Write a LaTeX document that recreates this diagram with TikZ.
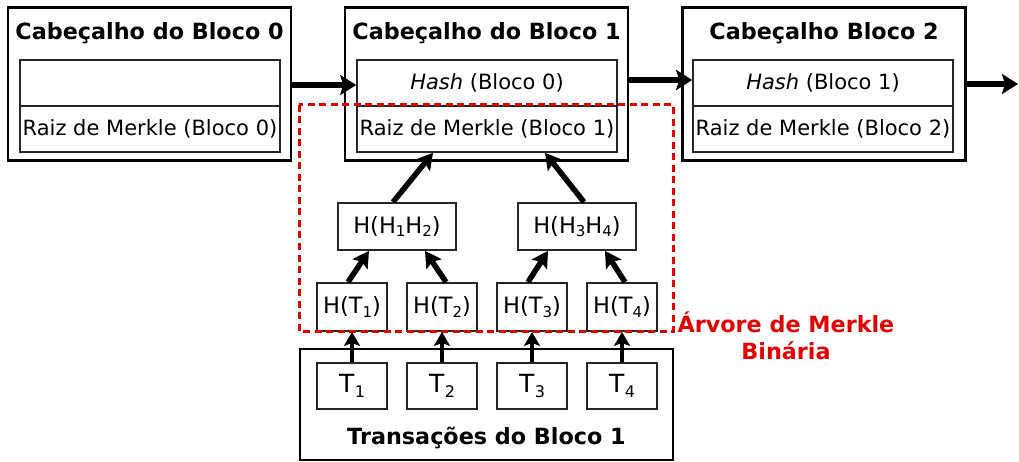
\documentclass[tikz,border=0pt]{standalone}
\usepackage{fontspec}
\setmainfont{DejaVu Sans}
\usetikzlibrary{arrows.meta,calc}
\definecolor{treered}{RGB}{224,0,0}
% lowered index: size, drop, text
\newcommand\lowidx[3]{\raisebox{-#2}{\fontsize{#1}{#1}\selectfont #3}}
\newcommand\hidx[1]{\lowidx{15}{3.5pt}{#1}}
\newcommand\tidx[1]{\kern0.5pt\lowidx{16}{4.5pt}{#1}}
\begin{document}
\begin{tikzpicture}[x=1pt,y=-1pt,
  outerbox/.style={draw=black,line width=2.6pt,minimum width=283pt,minimum height=153pt,inner sep=0pt},
  fieldbox/.style={draw=black!85,line width=1.6pt,minimum width=260pt,minimum height=46pt,inner sep=0pt,font=\fontsize{21}{25}\selectfont},
  headtitle/.style={font=\fontsize{22.3}{26}\selectfont\bfseries},
  hashbox/.style={draw=black!85,line width=1.8pt,minimum height=47pt,inner sep=0pt,font=\fontsize{22.5}{26}\selectfont},
  leafbox/.style={hashbox,minimum width=70pt,minimum height=48pt},
  txbox/.style={draw=black!85,line width=1.8pt,minimum width=70pt,minimum height=46pt,inner sep=0pt,font=\fontsize{25}{28}\selectfont},
  bigarrow/.style={line width=5.5pt,-{Stealth[length=16pt,width=20pt,inset=3pt]}},
  treearrow/.style={line width=5.5pt,-{Stealth[length=16pt,width=18pt,inset=3pt]}},
  uparrow/.style={line width=4.5pt,-{Stealth[length=14pt,width=16pt,inset=3pt]}},
  merkleframe/.style={draw=treered,line width=3pt,dash pattern=on 7pt off 4.5pt},
]
\useasboundingbox (0,0) rectangle (1019,462);

% block headers
\node[outerbox] (b0) at (149.5,84) {};
\node[headtitle] (t0) at (149.5,33) {Cabeçalho do Bloco 0};
\node[fieldbox] (h0) at (150,83) {};
\node[fieldbox] (r0) at (150,129) {Raiz de Merkle (Bloco 0)};

\node[outerbox] (b1) at (486.5,84) {};
\node[headtitle] (t1) at (486.5,33) {Cabeçalho do Bloco 1};
\node[fieldbox] (h1) at (487,83) {\textit{Hash} (Bloco 0)};
\node[fieldbox] (r1) at (487,129) {Raiz de Merkle (Bloco 1)};

\node[outerbox] (b2) at (824,84) {};
\node[headtitle] (t2) at (824,33) {Cabeçalho Bloco 2};
\node[fieldbox] (h2) at (823,83) {\textit{Hash} (Bloco 1)};
\node[fieldbox] (r2) at (823,129) {Raiz de Merkle (Bloco 2)};

\coordinate (next) at (1018,84);

% transactions of block 1
\node[draw=black,line width=2.6pt,minimum width=373pt,minimum height=111pt,inner sep=0pt] (tx) at (486.5,404.5) {};
\node[headtitle] (txtitle) at (486.5,438) {Transações do Bloco 1};
\node[txbox] (T1) at (352,386) {T\tidx{1}};
\node[txbox] (T2) at (442,386) {T\tidx{2}};
\node[txbox] (T3) at (532,386) {T\tidx{3}};
\node[txbox] (T4) at (622,386) {T\tidx{4}};

% merkle tree
\node[leafbox] (HT1) at (352,307) {H(T\hidx{1})};
\node[leafbox] (HT2) at (442,307) {H(T\hidx{2})};
\node[leafbox] (HT3) at (532,307) {H(T\hidx{3})};
\node[leafbox] (HT4) at (622,307) {H(T\hidx{4})};
\node[hashbox,minimum width=118pt] (H12) at (397,226.5) {H(H\hidx{1}H\hidx{2})};
\node[hashbox,minimum width=118pt] (H34) at (577,226.5) {H(H\hidx{3}H\hidx{4})};

% dashed frame around the binary tree
\draw[merkleframe] (299,105) rectangle (673,331);
\node[text=treered,font=\fontsize{22.3}{27}\selectfont\bfseries,align=center] (label) at (786,336) {Árvore de Merkle\\Binária};

% chain links
\draw[bigarrow] (b0.east |- 0,85) -- (h1.west |- 0,85);
\draw[bigarrow] (b1.east |- 0,80) -- (h2.west |- 0,80);
\draw[bigarrow] (b2.east |- next) -- (next);

% hashing upwards
\draw[treearrow] ([xshift=-4pt]H12.north) -- ([xshift=-54pt]r1.south);
\draw[treearrow] ([xshift=7pt]H34.north) -- ([xshift=58pt]r1.south);
\draw[treearrow] ([xshift=-4pt]HT1.north) -- ([xshift=-28pt]H12.south);
\draw[treearrow] ([xshift=4pt]HT2.north) -- ([xshift=28pt]H12.south);
\draw[treearrow] ([xshift=-4pt]HT3.north) -- ([xshift=-29pt]H34.south);
\draw[treearrow] ([xshift=3pt]HT4.north) -- ([xshift=28pt]H34.south);
\foreach \i in {1,2,3,4}
  \draw[uparrow] (T\i.north) -- (HT\i.south);
\end{tikzpicture}
\end{document}
